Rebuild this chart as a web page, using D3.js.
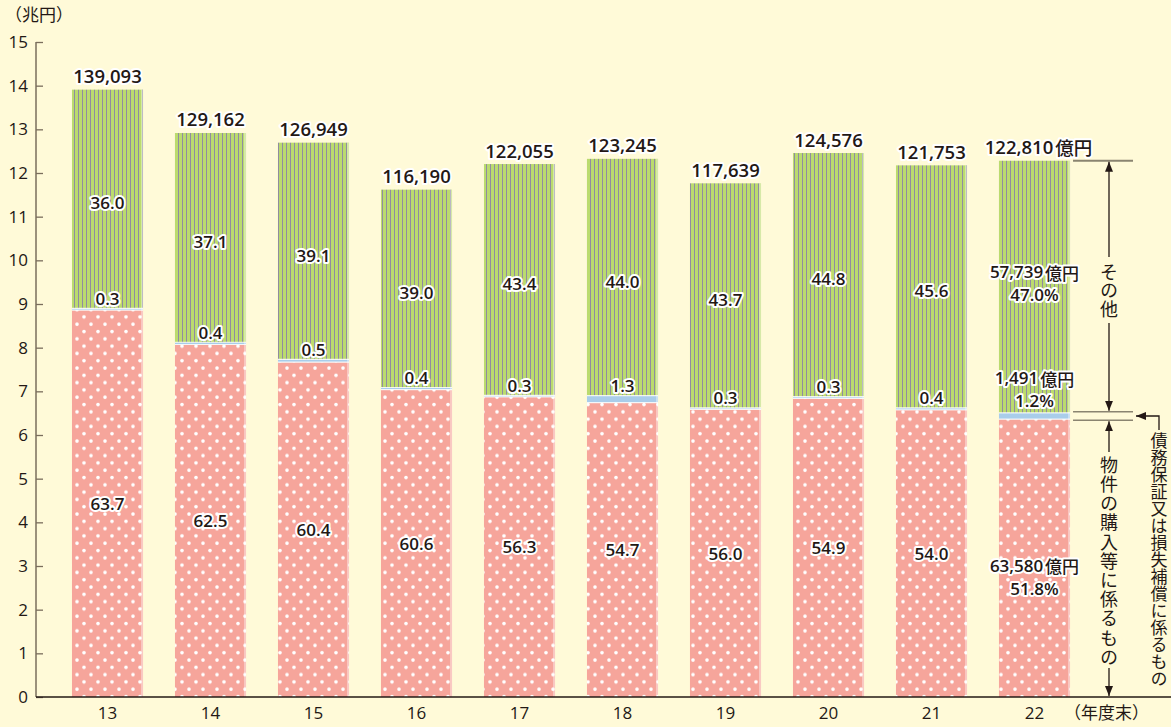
<!DOCTYPE html>
<html>
<head>
<meta charset="utf-8">
<script src="https://cdn.jsdelivr.net/npm/d3@7"></script>
<style>
  html, body { margin: 0; padding: 0; background: #fffad8; }
  svg { display: block; }
  text { font-family: "Noto Sans CJK JP", "Noto Sans", sans-serif; }
</style>
</head>
<body>
<div id="chart"></div>
<script>
// fiscal years (年度末)
const years = ['13', '14', '15', '16', '17', '18', '19', '20', '21', '22']
// totals, 億円
const totals = [139093, 129162, 126949, 116190, 122055, 123245, 117639, 124576, 121753, 122810]
// shares, %
const pctPurchase = [63.7, 62.5, 60.4, 60.6, 56.3, 54.7, 56.0, 54.9, 54.0, 51.8]
const pctGuarantee = [0.3, 0.4, 0.5, 0.4, 0.3, 1.3, 0.3, 0.3, 0.4, 1.2]
const pctOther = [36.0, 37.1, 39.1, 39.0, 43.4, 44.0, 43.7, 44.8, 45.6, 47.0]
// last year amounts, 億円 (purchase, guarantee, other)
const lastAmounts = [63580, 1491, 57739]
const yTicks = d3.range(0, 16)

const W = 1171
const H = 727

const svg = d3.select('#chart').append('svg')
  .attr('width', W)
  .attr('height', H)

svg.append('rect').attr('width', W).attr('height', H).attr('fill', '#fffad8')

// patterns
const defs = svg.append('defs')
const dots = defs.append('pattern')
  .attr('id', 'dots')
  .attr('patternUnits', 'userSpaceOnUse')
  .attr('width', 14).attr('height', 14.6)
  .attr('x', 74).attr('y', 0)
dots.append('rect').attr('width', 14).attr('height', 14.6).attr('fill', '#f6a59b')
dots.append('circle').attr('cx', 3).attr('cy', 3).attr('r', 1.8).attr('fill', '#fff')
dots.append('circle').attr('cx', 10).attr('cy', 10.3).attr('r', 1.8).attr('fill', '#fff')

const stripes = defs.append('pattern')
  .attr('id', 'stripes')
  .attr('patternUnits', 'userSpaceOnUse')
  .attr('width', 4).attr('height', 10)
  .attr('x', 72).attr('y', 0)
stripes.append('rect').attr('width', 4).attr('height', 10).attr('fill', '#bbdb6e')
stripes.append('rect').attr('x', 2).attr('width', 0.8).attr('height', 10).attr('fill', '#8578ad')

// scales
const x = d3.scaleBand()
  .domain(years)
  .range([56, 1086])
  .paddingInner(0.31)
  .paddingOuter(0.155)

const y = d3.scaleLinear()
  .domain([0, 15])
  .range([697, 42])

// build stacked segments (兆円)
const rows = years.map((yr, i) => {
  const t = totals[i] / 10000
  const a = t * pctPurchase[i] / 100
  const b = t * pctGuarantee[i] / 100
  return { yr, i, total: t, purchase: [0, a], guarantee: [a, a + b], other: [a + b, t] }
})

// y axis
const yAxis = d3.axisRight(y)
  .tickValues(yTicks)
  .tickSize(7)
  .tickFormat(d3.format('d'))
const gy = svg.append('g')
  .attr('transform', 'translate(36,0)')
  .call(yAxis)
gy.select('.domain').attr('stroke', '#7a6e5c').attr('stroke-width', 1.5)
  .attr('d', `M0,${y(15)}V${y(0)}`)
gy.selectAll('.tick line').attr('stroke', '#7a6e5c').attr('stroke-width', 1.3)
gy.selectAll('.tick text')
  .attr('x', -8)
  .attr('text-anchor', 'end')
  .attr('fill', '#231815')
  .style('font-size', '17px')
  .style('font-family', '"Open Sans", "Noto Sans", sans-serif')

svg.append('text')
  .attr('x', 5).attr('y', 21)
  .attr('fill', '#231815')
  .style('font-size', '17px')
  .text('（兆円）')

// bars
const bars = svg.append('g').selectAll('g.bar').data(rows).enter()
  .append('g').attr('class', 'bar')

const bw = x.bandwidth()
bars.append('rect')
  .attr('x', d => x(d.yr)).attr('width', bw)
  .attr('y', d => y(d.purchase[1])).attr('height', d => y(d.purchase[0]) - y(d.purchase[1]))
  .attr('fill', 'url(#dots)')
bars.append('rect')
  .attr('x', d => x(d.yr)).attr('width', bw)
  .attr('y', d => y(d.guarantee[1])).attr('height', d => y(d.guarantee[0]) - y(d.guarantee[1]))
  .attr('fill', '#a9cdea')
bars.append('rect')
  .attr('x', d => x(d.yr)).attr('width', bw)
  .attr('y', d => y(d.other[1])).attr('height', d => y(d.other[0]) - y(d.other[1]))
  .attr('fill', 'url(#stripes)')
// light edges between segments and on right side
bars.append('line')
  .attr('x1', d => x(d.yr)).attr('x2', d => x(d.yr) + bw)
  .attr('y1', d => y(d.purchase[1])).attr('y2', d => y(d.purchase[1]))
  .attr('stroke', '#fff').attr('stroke-opacity', 0.8).attr('stroke-width', 1.2)
bars.append('line')
  .attr('x1', d => x(d.yr)).attr('x2', d => x(d.yr) + bw)
  .attr('y1', d => y(d.guarantee[1])).attr('y2', d => y(d.guarantee[1]))
  .attr('stroke', '#fff').attr('stroke-opacity', 0.8).attr('stroke-width', 1.2)
bars.append('rect')
  .attr('x', d => x(d.yr) + bw - 2).attr('width', 2)
  .attr('y', d => y(d.total)).attr('height', d => y(0) - y(d.total))
  .attr('fill', '#fff').attr('fill-opacity', 0.4)

// baseline
svg.append('line')
  .attr('x1', 36).attr('x2', W)
  .attr('y1', y(0)).attr('y2', y(0))
  .attr('stroke', '#231815').attr('stroke-width', 1.5)

// x labels
svg.append('g').selectAll('text').data(years).enter()
  .append('text')
  .attr('x', d => x(d) + bw / 2)
  .attr('y', 719)
  .attr('text-anchor', 'middle')
  .attr('fill', '#231815')
  .style('font-size', '17px')
  .style('font-family', '"Open Sans", "Noto Sans", sans-serif')
  .text(d => d)
svg.append('text')
  .attr('x', 1064).attr('y', 719)
  .attr('fill', '#231815')
  .style('font-size', '17px')
  .text('（年度末）')

// haloed labels
const fmt = d3.format(',')
function label (g, xPos, yPos, txt, size) {
  return g.append('text')
    .attr('x', xPos).attr('y', yPos)
    .attr('text-anchor', 'middle')
    .attr('dominant-baseline', 'central')
    .attr('fill', '#231815')
    .attr('stroke', '#fff').attr('stroke-width', 4).attr('stroke-linejoin', 'round')
    .attr('paint-order', 'stroke')
    .style('font-size', (size || 17) + 'px')
    .style('font-weight', 600)
    .style('font-family', '"Open Sans", "Noto Sans CJK JP", sans-serif')
    .text(txt)
}
function yen (t) {
  t.append('tspan')
    .attr('dx', 2)
    .style('font-family', '"Noto Sans CJK JP", sans-serif')
    .style('font-weight', 500)
    .text('億円')
}

const labels = svg.append('g')
const last = years.length - 1
rows.forEach(d => {
  const cx = x(d.yr) + bw / 2
  const yTop = y(d.total)
  if (d.i === last) {
    yen(label(labels, cx + 4, yTop - 14, fmt(totals[d.i]), 18.5))
    const mO = (y(d.other[0]) + y(d.other[1])) / 2
    yen(label(labels, cx, mO - 15, fmt(lastAmounts[2]), 17))
    label(labels, cx, mO + 8, pctOther[d.i].toFixed(1) + '%', 17)
    const gTop = y(d.guarantee[1])
    yen(label(labels, cx, gTop - 35, fmt(lastAmounts[1]), 17))
    label(labels, cx, gTop - 12, pctGuarantee[d.i].toFixed(1) + '%', 17)
    const mP = (y(d.purchase[0]) + y(d.purchase[1])) / 2
    yen(label(labels, cx, mP + 7, fmt(lastAmounts[0]), 17))
    label(labels, cx, mP + 30, pctPurchase[d.i].toFixed(1) + '%', 17)
  } else {
    label(labels, cx, yTop - 14, fmt(totals[d.i]), 18.5)
    label(labels, cx, (y(d.other[0]) + y(d.other[1])) / 2 + 4, pctOther[d.i].toFixed(1), 17)
    label(labels, cx, y(d.guarantee[1]) - 10, pctGuarantee[d.i].toFixed(1), 17)
    label(labels, cx, (y(d.purchase[0]) + y(d.purchase[1])) / 2, pctPurchase[d.i].toFixed(1), 17)
  }
})

// right-side annotation
const lr = rows[last]
const ann = svg.append('g')
const ax = 1109
const lx1 = x(years[last]) + bw + 3
const lx2 = 1133
const yT = y(lr.total)
const yG = y(lr.guarantee[1])
const yP = y(lr.purchase[1])

defs.append('marker')
  .attr('id', 'arr')
  .attr('viewBox', '0 0 10 10')
  .attr('refX', 10).attr('refY', 5)
  .attr('markerWidth', 10).attr('markerHeight', 10)
  .attr('markerUnits', 'userSpaceOnUse')
  .attr('orient', 'auto')
  .append('path').attr('d', 'M0,1L10,5L0,9Z').attr('fill', '#231815')

ann.append('line').attr('x1', lx1).attr('x2', lx2).attr('y1', yT).attr('y2', yT)
  .attr('stroke', '#8a8470').attr('stroke-width', 2)
ann.append('line').attr('x1', lx1).attr('x2', lx2).attr('y1', yG - 1).attr('y2', yG - 1)
  .attr('stroke', '#8a8470').attr('stroke-width', 1.5)
ann.append('line').attr('x1', lx1).attr('x2', lx2).attr('y1', yP + 1).attr('y2', yP + 1)
  .attr('stroke', '#8a8470').attr('stroke-width', 1.5)

function arrow (x1, y1, x2, y2) {
  ann.append('line')
    .attr('x1', x1).attr('y1', y1).attr('x2', x2).attr('y2', y2)
    .attr('stroke', '#231815').attr('stroke-width', 1.3)
    .attr('marker-end', 'url(#arr)')
}

// vertical (tategaki) text as one element
function vtext (str, xc, yStart, size, spacing) {
  ann.append('text')
    .attr('x', xc)
    .attr('y', yStart)
    .attr('fill', '#231815')
    .style('writing-mode', 'vertical-rl')
    .style('text-orientation', 'upright')
    .style('letter-spacing', (spacing || 0) + 'px')
    .style('font-size', size + 'px')
    .text(str)
}

// その他
arrow(ax, 257, ax, yT + 1)
arrow(ax, 323, ax, yG - 2)
vtext('その他', ax, 263, 18, 0.5)

// 物件の購入等に係るもの
arrow(ax, 452, ax, yP + 2)
arrow(ax, 668, ax, y(0) - 1)
vtext('物件の購入等に係るもの', ax, 456, 18, 1.2)

// 債務保証又は損失補償に係るもの
const yMid = (yG + yP) / 2
ann.append('polyline')
  .attr('points', `1159,430 1159,${yMid} 1136,${yMid}`)
  .attr('fill', 'none')
  .attr('stroke', '#231815').attr('stroke-width', 1.3)
  .attr('marker-end', 'url(#arr)')
vtext('債務保証又は損失補償に係るもの', 1159, 432, 17, 0)
</script>
</body>
</html>
